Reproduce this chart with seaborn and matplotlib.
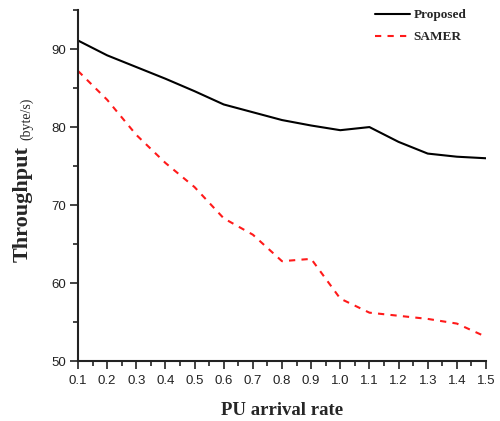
import matplotlib
matplotlib.use("Agg")
import matplotlib.pyplot as plt
import seaborn as sns
import pandas as pd
from matplotlib.ticker import MultipleLocator

x_rate = [0.1, 0.2, 0.3, 0.4, 0.5, 0.6, 0.7, 0.8, 0.9, 1.0, 1.1, 1.2, 1.3, 1.4, 1.5]
proposed = [91.1, 89.2, 87.7, 86.2, 84.6, 82.9, 81.9, 80.9, 80.2, 79.6, 80.0, 78.1, 76.6, 76.2, 76.0]
samer = [87.2, 83.5, 79.0, 75.4, 72.3, 68.3, 66.2, 62.8, 63.1, 58.0, 56.2, 55.8, 55.4, 54.8, 53.1]
x_ticks = [0.1, 0.2, 0.3, 0.4, 0.5, 0.6, 0.7, 0.8, 0.9, 1.0, 1.1, 1.2, 1.3, 1.4, 1.5]
y_ticks = [50, 60, 70, 80, 90]

sns.set_style("ticks")
plt.rcParams['font.family'] = ['Liberation Sans', 'DejaVu Sans']

df_p = pd.DataFrame({"x": x_rate, "y": proposed})
df_s = pd.DataFrame({"x": x_rate, "y": samer})

fig = plt.figure(figsize=(5.0, 4.21), dpi=100)
ax = fig.add_axes([0.156, 0.1425, 0.816, 0.8335])

sns.lineplot(data=df_p, x="x", y="y", ax=ax, color="black", linewidth=1.5, label="Proposed")
sns.lineplot(data=df_s, x="x", y="y", ax=ax, color="#ff1a1a", linewidth=1.5, label="SAMER")
ax.lines[1].set_dashes([3, 3])

ax.set_xlim(0.1, 1.5)
ax.set_ylim(50, 95)
ax.set_xticks(x_ticks)
ax.set_xticklabels([f"{v:.1f}" for v in x_ticks])
ax.set_yticks(y_ticks)
ax.xaxis.set_minor_locator(MultipleLocator(0.05))
ax.yaxis.set_minor_locator(MultipleLocator(5))
ax.tick_params(which="major", direction="out", length=6, width=1.2, labelsize=9.5,
               colors="#222222")
ax.tick_params(axis="y", which="major", pad=2.5)
ax.tick_params(axis="x", which="major", pad=4)
ax.tick_params(which="minor", direction="out", length=3.5, width=1.2, colors="#222222")
sns.despine(ax=ax)
for s in ["left", "bottom"]:
    ax.spines[s].set_linewidth(1.5)
    ax.spines[s].set_color("#222222")

ax.set_xlabel("PU arrival rate", fontfamily="Liberation Serif", fontweight="bold",
              fontsize=13.5, labelpad=11)
ax.set_ylabel("")

fig.text(33 / 500, 1 - 262 / 421, "Throughput", rotation=90, ha="right", va="bottom",
         fontfamily="Liberation Serif", fontweight="bold", fontsize=16)
fig.text(33 / 500, 1 - 140 / 421, "(byte/s)", rotation=90, ha="right", va="bottom",
         fontfamily="Liberation Serif", fontsize=10)

leg = ax.legend(loc="upper left", bbox_to_anchor=(0.698, 1.037), frameon=False,
                prop={"family": "Liberation Serif", "weight": "bold", "size": 9.5},
                handlelength=2.7, handletextpad=0.25, labelspacing=0.75)

fig.savefig("out.png", dpi=100)
